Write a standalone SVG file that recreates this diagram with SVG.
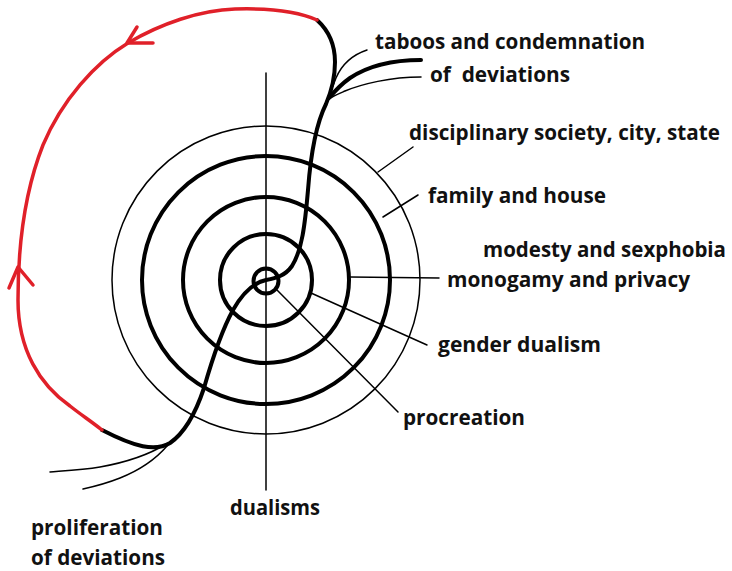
<svg xmlns="http://www.w3.org/2000/svg" width="732" height="571" viewBox="0 0 732 571">
  <style>
    .thick { fill: none; stroke: #000; stroke-width: 4; stroke-linecap: round; stroke-linejoin: round; }
    .thin { fill: none; stroke: #000; stroke-width: 1.5; stroke-linecap: round; }
    .red { fill: none; stroke: #e02029; stroke-width: 3.5; stroke-linecap: round; stroke-linejoin: round; }
    .lbl { font-family: "Open Sans", "DejaVu Sans", sans-serif; font-weight: 700; font-size: 22px; fill: #111; }
  </style>
  <rect width="732" height="571" fill="#fff"/>

  <!-- concentric rings -->
  <g id="rings">
    <circle id="ring-state" class="thin" cx="266" cy="280" r="154"/>
    <circle id="ring-family" class="thick" cx="266" cy="280" r="124"/>
    <circle id="ring-monogamy" class="thick" cx="266" cy="280" r="83"/>
    <circle id="ring-gender" class="thick" cx="266" cy="280" r="46"/>
    <circle id="ring-procreation" class="thick" cx="266" cy="281" r="12.5"/>
  </g>

  <!-- dualisms axis -->
  <g id="axis">
    <line class="thin" x1="266" y1="73" x2="266" y2="490"/>
  </g>

  <g id="connectors">
    <!-- spiral running through the rings -->
    <path class="thick" d="M317,20 C328,30 335,45 335,62 C335,78 332,90 326,104 C316,124 311,150 308,190 C305,225 302,250 292,266 C285,276 276,278 266,280 C252,283 242,294 233,310 C222,330 212,360 204,388 C196,412 186,432 170,443 C155,452 135,447 102,430"/>
    <!-- upper fan -->
    <path class="thin" d="M367,50 C352,55 342,64 336,78 C333,86 330,92 328,98"/>
    <path class="thick" d="M421,60 C392,60 368,66 350,78 C340,85 334,92 329,98"/>
    <path class="thin" d="M421,77 C390,77 362,84 345,91 C338,94 333,96 329,99"/>
    <!-- lower fan -->
    <path class="thin" d="M166,444 C150,454 128,462 100,467 C82,470 62,471 50,472"/>
    <path class="thin" d="M167,446 C155,460 140,470 120,478 C105,484 92,487 83,489"/>
    <!-- red return loop -->
    <path class="red" d="M317,20 C300,12 270,8 235,9 C200,10 160,24 128,43 C95,63 62,100 43,145 C26,188 18,240 18,300 C18,350 40,385 70,406 C80,414 92,422 102,430"/>
    <polyline class="red" points="137,27 127,43 153,43"/>
    <polyline class="red" points="9,288 18,267 33,285"/>
    <!-- ring labels leaders -->
    <line class="thin" x1="378" y1="172" x2="413" y2="147"/>
    <line class="thin" x1="383" y1="217" x2="418" y2="195"/>
    <line class="thin" x1="350" y1="277" x2="439" y2="278"/>
    <line class="thin" x1="311" y1="293" x2="427" y2="345"/>
    <line class="thin" x1="276" y1="289" x2="398" y2="412"/>
  </g>

  <g id="labels">
    <text id="t-taboos" class="lbl" x="375" y="49" textLength="270" lengthAdjust="spacingAndGlyphs">taboos and condemnation</text>
    <text id="t-of-dev-top" class="lbl" x="430" y="82" textLength="140" lengthAdjust="spacingAndGlyphs" xml:space="preserve">of  deviations</text>
    <text id="t-state" class="lbl" x="409" y="140" textLength="311" lengthAdjust="spacingAndGlyphs">disciplinary society, city, state</text>
    <text id="t-family" class="lbl" x="428" y="203" textLength="178" lengthAdjust="spacingAndGlyphs">family and house</text>
    <text id="t-modesty" class="lbl" x="483" y="257" textLength="243" lengthAdjust="spacingAndGlyphs">modesty and sexphobia</text>
    <text id="t-monogamy" class="lbl" x="447" y="287" textLength="243" lengthAdjust="spacingAndGlyphs">monogamy and privacy</text>
    <text id="t-gender" class="lbl" x="438" y="352" textLength="163" lengthAdjust="spacingAndGlyphs">gender dualism</text>
    <text id="t-procreation" class="lbl" x="403" y="425" textLength="122" lengthAdjust="spacingAndGlyphs">procreation</text>
    <text id="t-dualisms" class="lbl" x="230" y="515" textLength="90" lengthAdjust="spacingAndGlyphs">dualisms</text>
    <text id="t-proliferation" class="lbl" x="31" y="535" textLength="132" lengthAdjust="spacingAndGlyphs">proliferation</text>
    <text id="t-of-dev-bottom" class="lbl" x="31" y="565" textLength="134" lengthAdjust="spacingAndGlyphs">of deviations</text>
  </g>
</svg>
